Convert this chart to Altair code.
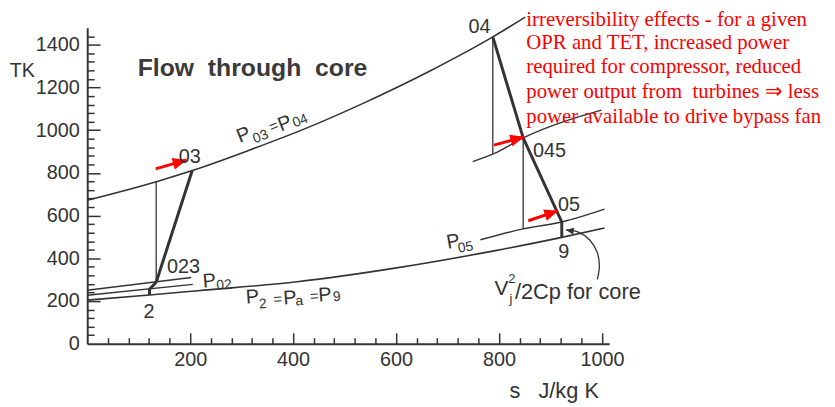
import math
import altair as alt
import pandas as pd

INK = "#333333"
RED = "#ff0000"
SANS = "Liberation Sans"
SERIF = "Liberation Serif"

# ---------------- axes / ticks ----------------
x_domain = [0, 1014]
y_domain = [0, 1480]
x_label_values = [200, 400, 600, 800, 1000]
y_label_values = [0, 200, 400, 600, 800, 1000, 1200, 1400]
x_tick_values = [40, 80, 120, 160, 200, 240, 280, 320, 360, 400, 440, 480, 520,
                 560, 600, 640, 680, 720, 760, 800, 840, 880, 920, 960, 1000]
y_tick_values = [40, 80, 120, 160, 200, 240, 280, 320, 360, 400, 440, 480, 520,
                 560, 600, 640, 680, 720, 760, 800, 840, 880, 920, 960, 1000,
                 1040, 1080, 1120, 1160, 1200, 1240, 1280, 1320, 1360, 1400, 1440]

# ---------------- isobars (s in J/kg K, T in K) ----------------
p03_s = [0, 136, 204, 312, 427, 537, 664, 788, 851]
p03_T = [672, 760, 811, 904, 1011, 1127, 1275, 1437, 1530]
p045_s = [749, 790, 847, 999]
p045_T = [853, 890, 964, 1094]
p05_s = [764, 847, 922, 1005]
p05_T = [487, 538, 570, 630]
p2_s = [0, 121, 215, 408, 601, 793, 922, 1005]
p2_T = [204, 228, 248, 290, 355, 436, 498, 542]
p02_s = [0, 205]
p02_T = [227, 278]
p023_s = [0, 202]
p023_T = [250, 310]

# ---------------- process lines ----------------
proc_2_023_s = [121, 121, 134]
proc_2_023_T = [228, 255, 288]
proc_023_03_s = [134, 204]
proc_023_03_T = [288, 811]
proc_04_045_s = [788, 847]
proc_04_045_T = [1437, 964]
proc_045_05_s = [847, 922]
proc_045_05_T = [964, 570]
proc_05_9_s = [922, 922]
proc_05_9_T = [570, 498]
ideal_023_s = [134, 134]
ideal_023_T = [288, 760]
ideal_04_s = [788, 788]
ideal_04_T = [1437, 890]
ideal_045_s = [847, 847]
ideal_045_T = [964, 538]

# ---------------- red arrows ----------------
red_s0 = [133, 790, 857]
red_T0 = [819, 930, 576]
red_s1 = [193, 849, 915]
red_T1 = [861, 969, 623]

# ---------------- curved pointer to the 05-9 drop ----------------
curve_s = [930, 953, 976, 991, 995, 991]
curve_T = [533, 524, 487, 427, 362, 301]

# ---------------- labels ----------------
point_labels = ["04", "045", "05", "9", "03", "023", "2"]
point_s = [762, 898, 936, 926, 199, 187, 120]
point_T = [1484, 904, 649, 431, 876, 357, 148]

piece_text = ["P", "03", "=", "P", "04",
              "P", "2", "=", "P", "a", "=", "P", "9",
              "P", "02",
              "P", "05",
              "V", "2", "j"]
piece_s = [304, 337, 362, 384, 414,
           321, 341, 370, 394, 412, 441, 462, 485,
           237, 266,
           711, 735,
           805, 825, 823]
piece_T = [978, 969, 1020, 1031, 1043,
           218, 185, 209, 213, 199, 223, 227, 218,
           292, 274,
           478, 450,
           255, 301, 209]
piece_size = [20, 14, 15, 20, 14,
              20, 14, 15, 20, 14, 15, 20, 14,
              20, 14,
              20, 14,
              21, 13, 13]
piece_angle = [338, 338, 338, 338, 338,
               356, 356, 356, 356, 356, 356, 356, 356,
               355, 355,
               350, 350,
               0, 0, 0]

vj_rest = "/2Cp for core"
vj_rest_s = 831
vj_rest_T = 241

title_text = "Flow\u00a0 through\u00a0 core"
title_s = 98
title_T = 1256

red_lines = ["irreversibility effects - for a given",
             "OPR and TET, increased power",
             "required for compressor, reduced",
             "power output from\u00a0 turbines \u21d2 less",
             "power available to drive bypass fan"]
red_line_s = [853, 853, 853, 853, 853]
red_line_T = [1488, 1380, 1268, 1152, 1036]

# ---------------- layout ----------------
W, H = 527, 319
kx = W / (x_domain[1] - x_domain[0])
ky = H / (y_domain[1] - y_domain[0])


def rows(name, s, T, w):
    return [dict(seg=name, s=a, T=b, o=i, w=w) for i, (a, b) in enumerate(zip(s, T))]


iso_df = pd.DataFrame(
    rows("p03", p03_s, p03_T, 1.6) + rows("p045", p045_s, p045_T, 1.4)
    + rows("p05", p05_s, p05_T, 1.4) + rows("p2", p2_s, p2_T, 1.6)
    + rows("p02", p02_s, p02_T, 1.4) + rows("p023", p023_s, p023_T, 1.4)
)
proc_df = pd.DataFrame(
    rows("a", proc_2_023_s, proc_2_023_T, 3) + rows("b", proc_023_03_s, proc_023_03_T, 3)
    + rows("c", proc_04_045_s, proc_04_045_T, 3) + rows("d", proc_045_05_s, proc_045_05_T, 3)
    + rows("e", proc_05_9_s, proc_05_9_T, 3)
    + rows("f", ideal_023_s, ideal_023_T, 1.3) + rows("g", ideal_04_s, ideal_04_T, 1.3)
    + rows("h", ideal_045_s, ideal_045_T, 1.3)
)


def pix_angle(s0, T0, s1, T1):
    return math.degrees(math.atan2(-(T1 - T0) * ky, (s1 - s0) * kx)) % 360


red_df = pd.DataFrame(dict(s=red_s0, T=red_T0, s2=red_s1, T2=red_T1,
                           ang=[pix_angle(a, b, c, d) for a, b, c, d in zip(red_s0, red_T0, red_s1, red_T1)]))
curve_df = pd.DataFrame(dict(s=curve_s, T=curve_T, o=list(range(len(curve_s)))))
curve_head_df = pd.DataFrame(dict(s=[curve_s[0]], T=[curve_T[0]],
                                  ang=[pix_angle(curve_s[1], curve_T[1], curve_s[0], curve_T[0])]))
point_df = pd.DataFrame(dict(text=point_labels, s=point_s, T=point_T))
piece_df = pd.DataFrame(dict(text=piece_text, s=piece_s, T=piece_T, fs=piece_size, ang=piece_angle))
vj_df = pd.DataFrame(dict(text=[vj_rest], s=[vj_rest_s], T=[vj_rest_T]))
title_df = pd.DataFrame(dict(text=[title_text], s=[title_s], T=[title_T]))
red_text_df = pd.DataFrame(dict(text=red_lines, s=red_line_s, T=red_line_T))

xs = alt.Scale(domain=x_domain, nice=False, zero=False)
ys = alt.Scale(domain=y_domain, nice=False, zero=False)

axis_x_main = alt.Axis(orient="bottom", values=x_label_values, format="d", ticks=False, tickSize=0,
                       grid=False, domainColor=INK, domainWidth=2, labelFont=SANS, labelFontSize=20,
                       labelColor=INK, labelPadding=6, labelFlush=False, labelOverlap=False,
                       title="s\u00a0\u00a0\u00a0J/kg K", titleFont=SANS, titleFontSize=22,
                       titleFontWeight="normal", titleColor=INK, titleX=471, titleY=47,
                       titleAlign="center", titleBaseline="middle")
axis_y_main = alt.Axis(orient="left", values=y_label_values, format="d", ticks=False, tickSize=0,
                       grid=False, domainColor=INK, domainWidth=2, labelFont=SANS, labelFontSize=20,
                       labelColor=INK, labelPadding=8, labelFlush=False, labelOverlap=False,
                       title="TK", titleFont=SANS, titleFontSize=20, titleFontWeight="normal",
                       titleColor=INK, titleAngle=0, titleX=-66, titleY=43,
                       titleAlign="center", titleBaseline="middle")
axis_x_ticks = alt.Axis(orient="top", offset=-H, values=x_tick_values, labels=False, domain=False,
                        grid=False, ticks=True, tickColor=INK, tickWidth=1.5, title=None,
                        tickSize={"condition": {"test": "datum.value % 200 === 0", "value": 11}, "value": 6})
axis_y_ticks = alt.Axis(orient="right", offset=-W, values=y_tick_values, labels=False, domain=False,
                        grid=False, ticks=True, tickColor=INK, tickWidth=1.5, title=None,
                        tickSize={"condition": {"test": "datum.value % 200 === 0", "value": 13}, "value": 7})

iso = alt.Chart(iso_df).mark_line(color=INK, interpolate="monotone").encode(
    x=alt.X("s:Q", scale=xs, axis=axis_x_main),
    y=alt.Y("T:Q", scale=ys, axis=axis_y_main),
    detail="seg:N", order="o:Q",
    strokeWidth=alt.StrokeWidth("w:Q", scale=None),
)
proc = alt.Chart(proc_df).mark_line(color=INK, strokeJoin="round").encode(
    x=alt.X("s:Q", scale=xs, axis=axis_x_ticks),
    y=alt.Y("T:Q", scale=ys, axis=axis_y_ticks),
    detail="seg:N", order="o:Q",
    strokeWidth=alt.StrokeWidth("w:Q", scale=None),
)
curve = alt.Chart(curve_df).mark_line(color=INK, strokeWidth=1.3, interpolate="cardinal").encode(
    x=alt.X("s:Q", scale=xs, axis=None), y=alt.Y("T:Q", scale=ys, axis=None), order="o:Q")
curve_head = alt.Chart(curve_head_df).mark_point(
    shape="M0,0L-2,-0.85L-2,0.85Z", filled=True, color=INK, opacity=1, size=64, strokeWidth=0
).encode(x=alt.X("s:Q", scale=xs, axis=None), y=alt.Y("T:Q", scale=ys, axis=None),
         angle=alt.Angle("ang:Q", scale=None))
red_shaft = alt.Chart(red_df).mark_rule(color=RED, strokeWidth=3).encode(
    x=alt.X("s:Q", scale=xs, axis=None), y=alt.Y("T:Q", scale=ys, axis=None), x2="s2:Q", y2="T2:Q")
red_head = alt.Chart(red_df).mark_point(
    shape="M0,0L-2,-0.85L-2,0.85Z", filled=True, color=RED, opacity=1, size=196, strokeWidth=0
).encode(x=alt.X("s2:Q", scale=xs, axis=None), y=alt.Y("T2:Q", scale=ys, axis=None),
         angle=alt.Angle("ang:Q", scale=None))
pts = alt.Chart(point_df).mark_text(font=SANS, fontSize=20, color=INK, align="center",
                                    baseline="middle").encode(
    x=alt.X("s:Q", scale=xs, axis=None), y=alt.Y("T:Q", scale=ys, axis=None), text="text:N")
pieces = alt.Chart(piece_df).mark_text(font=SANS, color=INK, align="center", baseline="middle").encode(
    x=alt.X("s:Q", scale=xs, axis=None), y=alt.Y("T:Q", scale=ys, axis=None), text="text:N",
    size=alt.Size("fs:Q", scale=None), angle=alt.Angle("ang:Q", scale=None))
vj = alt.Chart(vj_df).mark_text(font=SANS, fontSize=22, color=INK, align="left", baseline="middle").encode(
    x=alt.X("s:Q", scale=xs, axis=None), y=alt.Y("T:Q", scale=ys, axis=None), text="text:N")
title = alt.Chart(title_df).mark_text(font=SANS, fontSize=25, fontWeight="bold", color="#3a3a3a",
                                      align="left", baseline="alphabetic").encode(
    x=alt.X("s:Q", scale=xs, axis=None), y=alt.Y("T:Q", scale=ys, axis=None), text="text:N")
red_text = alt.Chart(red_text_df).mark_text(font=SERIF, fontSize=21, color=RED, align="left",
                                            baseline="alphabetic").encode(
    x=alt.X("s:Q", scale=xs, axis=None), y=alt.Y("T:Q", scale=ys, axis=None), text="text:N")

chart = alt.layer(iso, proc, curve, curve_head, red_shaft, red_head, pts, pieces, vj, title, red_text
).resolve_axis(x="independent", y="independent").properties(
    width=W, height=H,
    autosize=alt.AutoSizeParams(type="none"),
    padding={"left": 80, "top": 18, "right": 220, "bottom": 62},
    background="white",
).configure_view(strokeWidth=0)

chart.save("out.html", embed_options={"renderer": "svg", "actions": False})
